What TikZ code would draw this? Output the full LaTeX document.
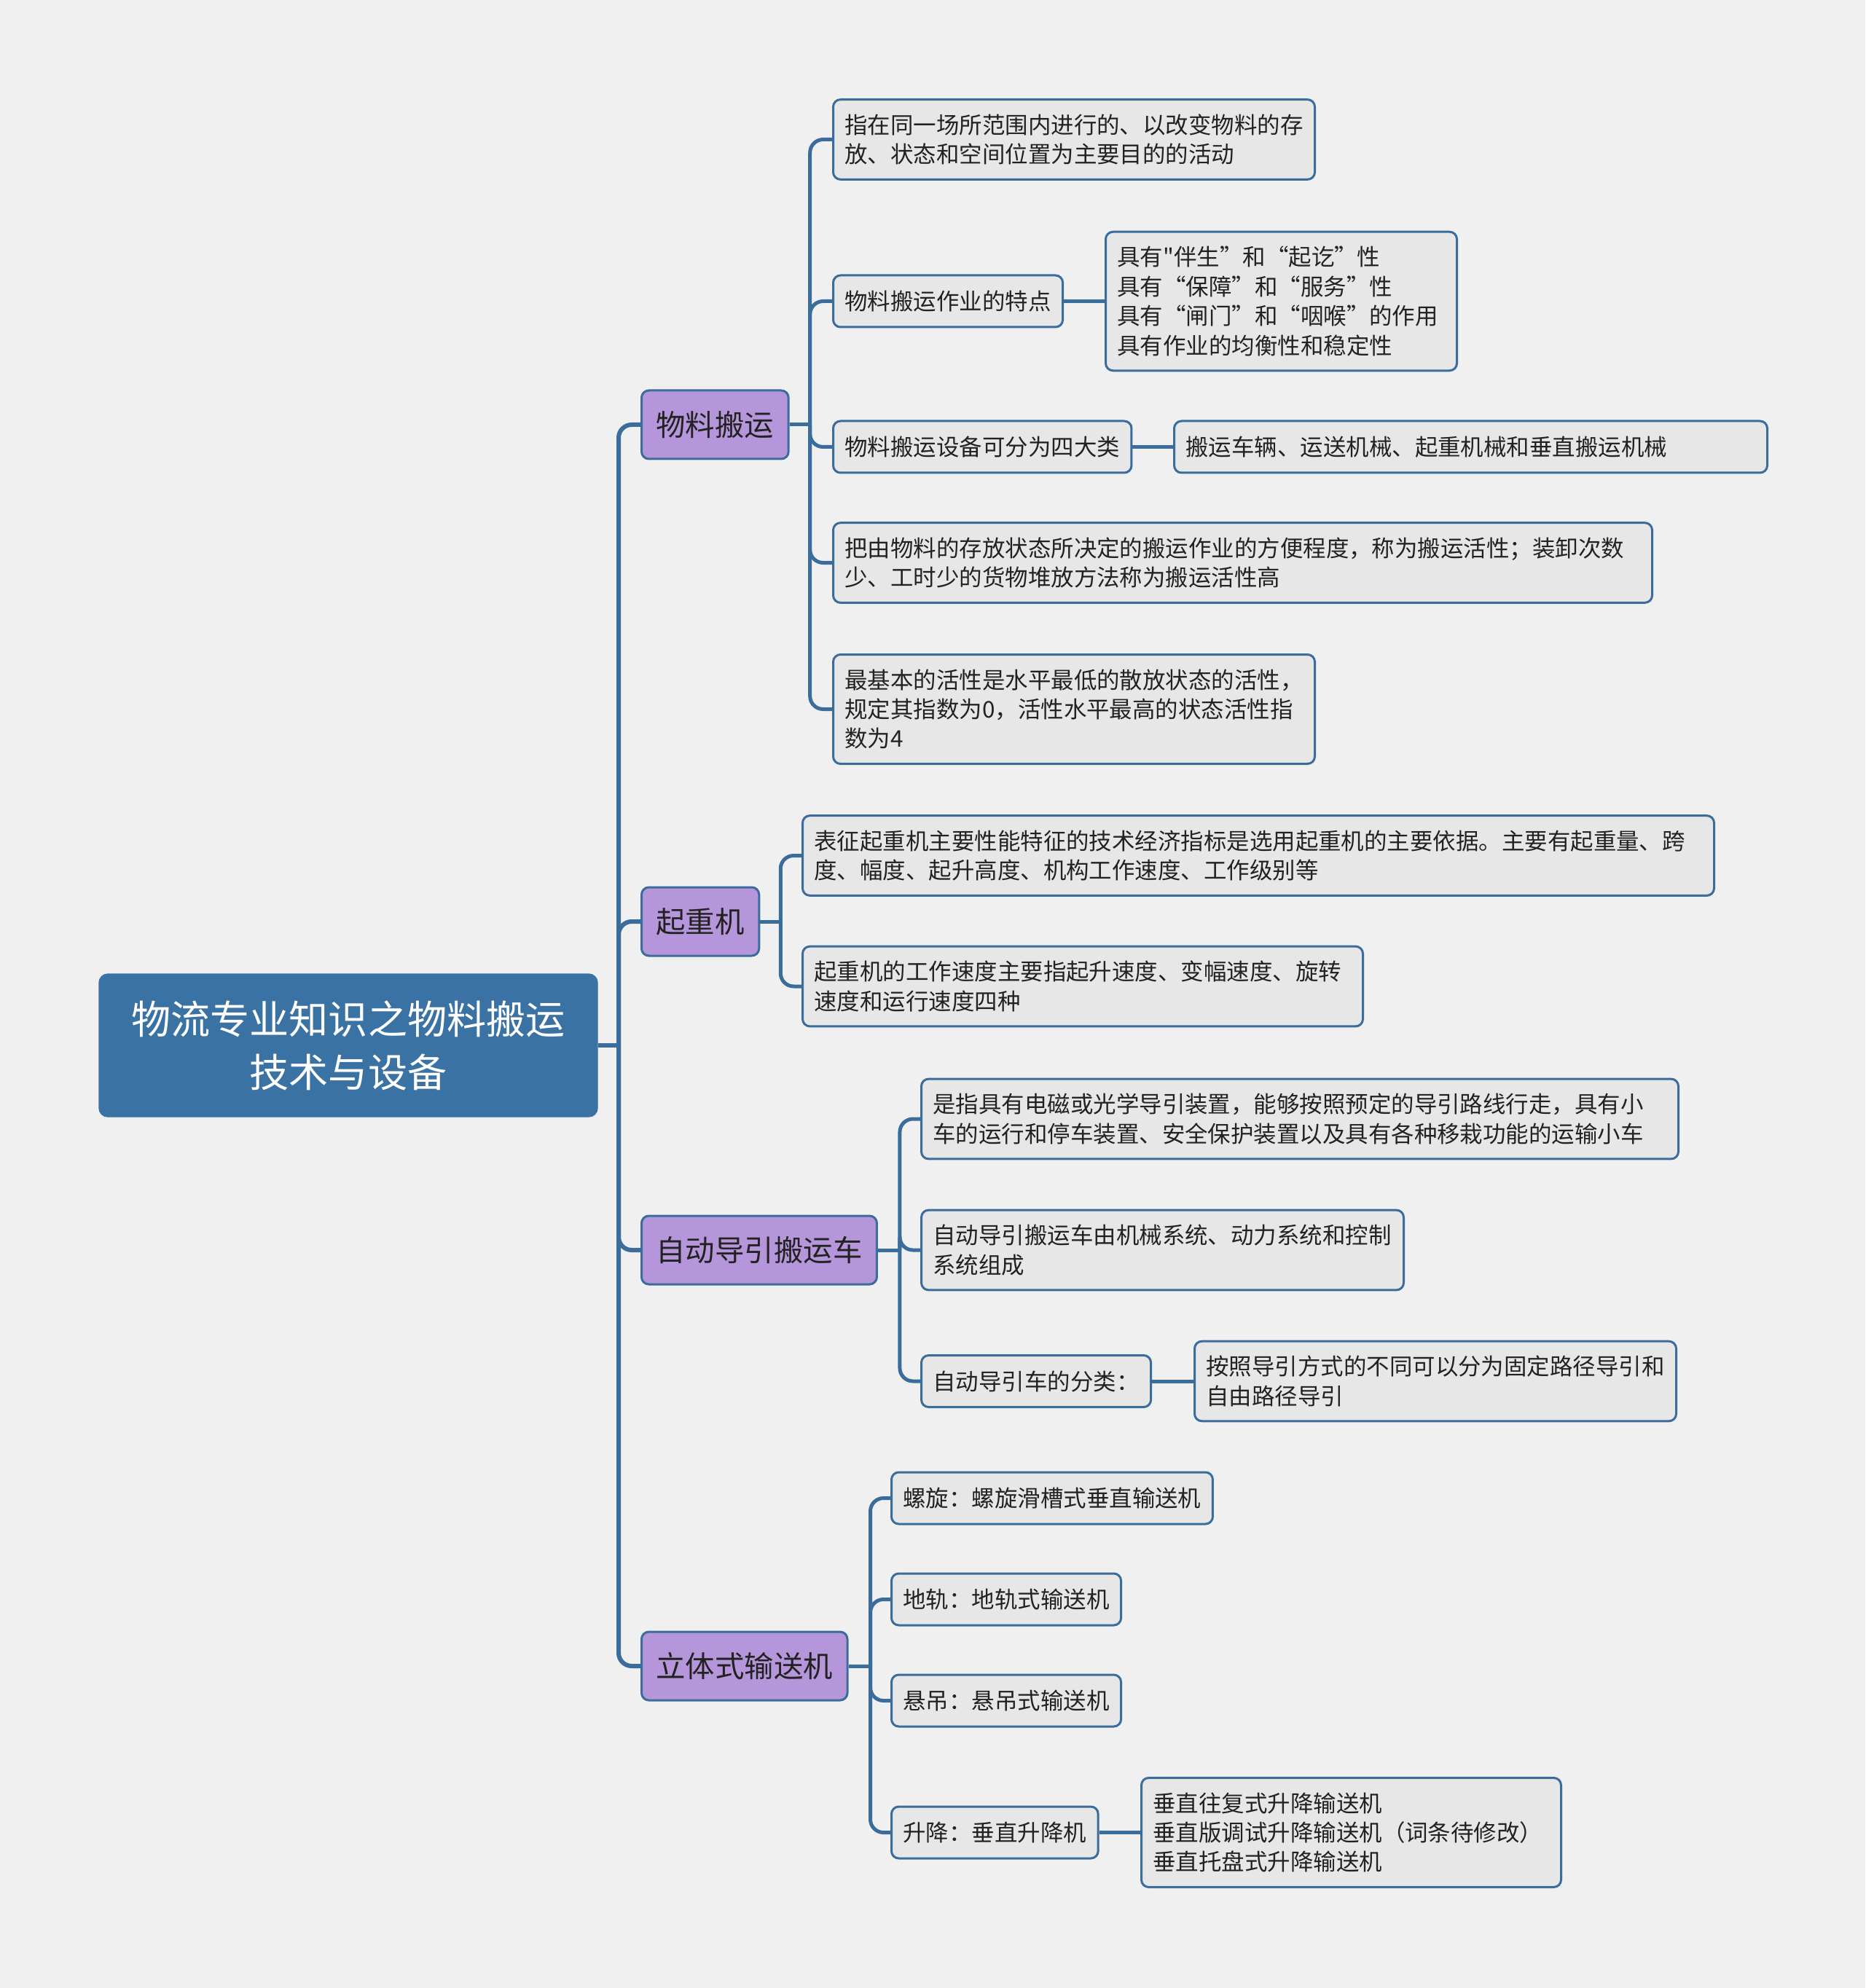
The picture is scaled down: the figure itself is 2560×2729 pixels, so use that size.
\documentclass[tikz,border=0pt]{standalone}
\usepackage{fontspec}
\newfontfamily\cjk{Noto Sans CJK SC}
\usepackage{xcolor}
\usetikzlibrary{positioning}
\definecolor{PageGray}{RGB}{240,240,240}
\definecolor{RootBlue}{RGB}{59,114,164}
\definecolor{LinkBlue}{RGB}{58,108,156}
\definecolor{BranchPurple}{RGB}{182,150,218}
\definecolor{LeafGray}{RGB}{231,231,231}
\definecolor{InkGray}{RGB}{34,34,34}
\tikzset{
  rootbox/.style={draw=RootBlue, fill=RootBlue, rounded corners=1.2mm, text=white, align=center,
    font=\cjk\fontsize{15.4}{20.8}\selectfont, minimum width=68.4mm, minimum height=19.6mm},
  branchbox/.style={draw=LinkBlue, line width=0.3mm, fill=BranchPurple, rounded corners=1mm, text=InkGray,
    font=\cjk\fontsize{11.5}{14}\selectfont, inner xsep=2mm, minimum height=9.4mm, anchor=west},
  leafbox/.style={draw=LinkBlue, line width=0.3mm, fill=LeafGray, rounded corners=1mm, text=InkGray,
    font=\cjk\fontsize{8.95}{11.5}\selectfont, inner xsep=1.6mm, inner ysep=2mm, minimum height=7.1mm,
    align=left, anchor=west},
  link/.style={draw=LinkBlue, line width=0.5mm},
  trunk/.style={link, line width=0.6mm},
  elbow/.style={link, rounded corners=1.8mm},
}

\begin{document}
\begin{tikzpicture}[x=0.1mm, y=-0.1mm]
  \fill[PageGray] (0,0) rectangle (2560,2729);

  % root and main branches
  \node[rootbox] (root) at (478,1435) {物流专业知识之物料搬运\\技术与设备};
  \node[branchbox] (b1) at (879,583) {物料搬运};
  \node[branchbox] (b2) at (879,1265) {起重机};
  \node[branchbox] (b3) at (879,1716) {自动导引搬运车};
  \node[branchbox] (b4) at (879,2287) {立体式输送机};

  % 物料搬运
  \node[leafbox, text width=62.9mm] (c11) at (1142,191.5)
    {指在同一场所范围内进行的、以改变物料的存\\放、状态和空间位置为主要目的的活动};
  \node[leafbox] (c12) at (1142,413.5) {物料搬运作业的特点};
  \node[leafbox, text width=45mm] (c12a) at (1516,413.5)
    {具有"伴生”和“起讫”性\\具有“保障”和“服务”性\\具有“闸门”和“咽喉”的作用\\具有作业的均衡性和稳定性};
  \node[leafbox] (c13) at (1142,613.5) {物料搬运设备可分为四大类};
  \node[leafbox, text width=78.2mm] (c13a) at (1610,613.5) {搬运车辆、运送机械、起重机械和垂直搬运机械};
  \node[leafbox, text width=109.2mm] (c14) at (1142,772.5)
    {把由物料的存放状态所决定的搬运作业的方便程度，称为搬运活性；装卸次数\\少、工时少的货物堆放方法称为搬运活性高};
  \node[leafbox, text width=62.9mm] (c15) at (1142,973.5)
    {最基本的活性是水平最低的散放状态的活性，\\规定其指数为0，活性水平最高的状态活性指\\数为4};

  % 起重机
  \node[leafbox, text width=121.9mm] (c21) at (1100,1174.5)
    {表征起重机主要性能特征的技术经济指标是选用起重机的主要依据。主要有起重量、跨\\度、幅度、起升高度、机构工作速度、工作级别等};
  \node[leafbox, text width=73.7mm] (c22) at (1100,1354)
    {起重机的工作速度主要指起升速度、变幅速度、旋转\\速度和运行速度四种};

  % 自动导引搬运车
  \node[leafbox, text width=100.7mm] (c31) at (1263,1536)
    {是指具有电磁或光学导引装置，能够按照预定的导引路线行走，具有小\\车的运行和停车装置、安全保护装置以及具有各种移栽功能的运输小车};
  \node[leafbox, text width=63mm] (c32) at (1263,1716)
    {自动导引搬运车由机械系统、动力系统和控制\\系统组成};
  \node[leafbox] (c33) at (1263,1896) {自动导引车的分类：};
  \node[leafbox, text width=62.9mm] (c33a) at (1638,1896)
    {按照导引方式的不同可以分为固定路径导引和\\自由路径导引};

  % 立体式输送机
  \node[leafbox] (c41) at (1222,2056.5) {螺旋：螺旋滑槽式垂直输送机};
  \node[leafbox] (c42) at (1222,2195.5) {地轨：地轨式输送机};
  \node[leafbox] (c43) at (1222,2334.5) {悬吊：悬吊式输送机};
  \node[leafbox] (c44) at (1222,2515.5) {升降：垂直升降机};
  \node[leafbox, text width=54.4mm] (c44a) at (1565,2515.5)
    {垂直往复式升降输送机\\垂直版调试升降输送机（词条待修改）\\垂直托盘式升降输送机};

  % connectors
  \draw[trunk] (root.east) -- (849,1435) coordinate (rj);
  \foreach \b in {b1,b2,b3,b4}
    \draw[elbow, trunk] (rj) |- (\b.west);

  \path (b1.east) ++(28,0) coordinate (j1);
  \draw[link] (b1.east) -- (j1);
  \foreach \c in {c11,c12,c13,c14,c15}
    \draw[elbow] (j1) |- (\c.west);

  \path (b2.east) ++(28,0) coordinate (j2);
  \draw[link] (b2.east) -- (j2);
  \foreach \c in {c21,c22}
    \draw[elbow] (j2) |- (\c.west);

  \path (b3.east) ++(30,0) coordinate (j3);
  \draw[link] (b3.east) -- (j3);
  \foreach \c in {c31,c32,c33}
    \draw[elbow] (j3) |- (\c.west);

  \path (b4.east) ++(30,0) coordinate (j4);
  \draw[link] (b4.east) -- (j4);
  \foreach \c in {c41,c42,c43,c44}
    \draw[elbow] (j4) |- (\c.west);

  \draw[link] (c12) -- (c12a);
  \draw[link] (c13) -- (c13a);
  \draw[link] (c33) -- (c33a);
  \draw[link] (c44) -- (c44a);
\end{tikzpicture}
\end{document}
